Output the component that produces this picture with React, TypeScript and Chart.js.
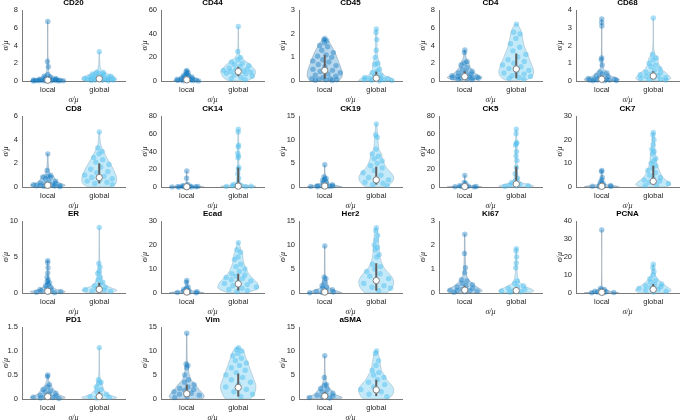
import React, { useEffect, useRef } from 'react';
import { Chart, registerables } from 'chart.js';
Chart.register(...registerables);

// ---------------- data ----------------
const markers = ['CD20','CD44','CD45','CD4','CD68','CD8','CK14','CK19','CK5','CK7','ER','Ecad','Her2','Ki67','PCNA','PD1','Vim','aSMA'];
const groupLabels = ['local', 'global'];
const yMax = [8,60,3,8,4,6,80,15,80,30,10,30,15,3,40,1.5,15,15];
const yStep = [2,20,1,2,1,2,20,5,20,10,5,10,5,1,10,0.5,5,5];

const localMedian = [0.1,1.0,0.45,0.5,0.1,0.15,0.3,0.2,0.5,0.3,0.25,0.4,0.2,0.12,0.4,0.05,1.1,0.6];
const globalMedian = [0.25,8,0.12,1.35,0.28,0.8,1,1.5,3.4,2.4,0.5,3.8,2.6,0.1,2,0.05,2.4,1.9];

const localBox = [[0.03,0.3],[0.4,2.5],[0.1,1.1],[0.3,1.1],[0.04,0.3],[0.05,0.4],[0.1,0.8],[0.08,0.6],[0.2,1.2],[0.1,0.8],[0.08,0.6],[0.1,1],[0.05,0.6],[0.05,0.3],[0.1,1],[0.02,0.12],[0.4,3],[0.2,1.5]];
const globalBox = [[0.1,0.6],[4,12],[0.04,0.4],[0.3,3.1],[0.12,0.55],[0.3,2.0],[0.5,22],[0.5,4.3],[1,23],[0.8,9],[0.25,1.4],[1,8],[0.5,6.2],[0.04,0.25],[0.8,5],[0.02,0.15],[0.5,5.3],[0.6,4]];

// density profiles: [value, relative half-width]
const localDensity = [
  [[0,1.0],[0.15,0.9],[0.3,0.55],[0.6,0.22],[1,0.07],[1.6,0.05],[2.2,0.04],[3,0.015],[5,0.01],[6.7,0.01]],
  [[0,0.75],[1,0.7],[2,0.55],[3,0.4],[5,0.22],[7,0.12],[9,0.04]],
  [[0,0.8],[0.2,1.0],[0.5,0.95],[0.8,0.8],[1.1,0.65],[1.4,0.45],[1.6,0.3],[1.75,0.12],[1.82,0.02]],
  [[0.1,0.6],[0.4,1.0],[0.8,0.65],[1.2,0.45],[1.6,0.3],[2.0,0.25],[2.5,0.1],[3,0.05],[3.5,0.02]],
  [[0,0.9],[0.1,1.0],[0.3,0.5],[0.5,0.3],[0.7,0.1],[1,0.05],[1.3,0.03],[2,0.01],[3.5,0.01]],
  [[0,0.7],[0.15,1.0],[0.4,0.6],[0.7,0.4],[0.9,0.35],[1.1,0.15],[1.4,0.08],[2,0.03],[2.8,0.02]],
  [[0,1.0],[1,0.5],[2,0.1],[5,0.03],[10,0.02],[18,0.01]],
  [[0,1.0],[0.3,0.7],[0.8,0.25],[1.5,0.15],[2,0.1],[3,0.02],[4.7,0.01]],
  [[0,1.0],[1,0.55],[2,0.2],[4,0.08],[6,0.03],[13,0.01]],
  [[0,1.0],[0.5,0.8],[1,0.3],[2,0.1],[4,0.05],[7,0.02]],
  [[0,0.8],[0.2,1.0],[0.5,0.5],[1,0.2],[1.5,0.1],[2,0.05],[3,0.03],[4.5,0.01]],
  [[0,1.0],[0.5,0.7],[1,0.3],[2,0.15],[3,0.08],[5.2,0.02]],
  [[0,1.0],[0.3,0.8],[1,0.3],[1.5,0.2],[3,0.1],[3.5,0.04],[5,0.02],[9.8,0.01]],
  [[0,0.8],[0.1,1.0],[0.3,0.6],[0.5,0.3],[0.7,0.12],[1,0.06],[1.6,0.03],[2.45,0.01]],
  [[0,1.0],[0.5,0.7],[1.5,0.3],[2.5,0.15],[4,0.02],[35,0.005]],
  [[0,0.8],[0.03,1.0],[0.1,0.6],[0.2,0.35],[0.3,0.15],[0.4,0.05],[0.5,0.02]],
  [[0,0.9],[0.5,1.0],[1,0.95],[2,0.7],[3,0.5],[4,0.25],[5,0.15],[6,0.1],[7,0.1],[8,0.03],[10,0.02],[13.7,0.01]],
  [[0,0.9],[0.3,1.0],[1,0.6],[2,0.35],[3,0.15],[4.5,0.05],[6,0.02],[9,0.01]],
];
const globalDensity = [
  [[0,0.8],[0.2,1.0],[0.5,0.85],[0.8,0.5],[1.0,0.3],[1.3,0.1],[2,0.03],[3.3,0.01]],
  [[0,0.5],[3,0.85],[8,1.0],[12,0.8],[16,0.5],[19,0.25],[22,0.08],[25,0.05],[30,0.02],[46,0.01]],
  [[0,1.0],[0.1,0.9],[0.25,0.45],[0.5,0.22],[0.75,0.2],[1.0,0.08],[1.3,0.05],[1.75,0.05],[2.2,0.02]],
  [[0.1,0.6],[0.5,0.9],[1,1.0],[1.5,0.95],[2,0.85],[3,0.65],[4,0.45],[5,0.35],[5.5,0.3],[6,0.2],[6.4,0.05]],
  [[0,0.7],[0.15,1.0],[0.4,0.8],[0.7,0.45],[1.0,0.3],[1.3,0.25],[1.5,0.1],[2,0.02],[3.55,0.01]],
  [[0,0.6],[0.3,0.95],[0.7,1.0],[1.2,0.9],[1.8,0.7],[2.4,0.45],[3,0.25],[3.5,0.1],[4,0.05],[4.65,0.01]],
  [[0,0.9],[1,1.0],[2,0.5],[4,0.12],[8,0.05],[20,0.04],[35,0.04],[47,0.03],[65,0.01]],
  [[0,0.6],[1,0.9],[2,1.0],[3,0.85],[4,0.6],[5,0.45],[6,0.35],[7,0.3],[8,0.15],[10,0.1],[11,0.08],[13.3,0.02]],
  [[0,0.8],[1,1.0],[3,0.7],[5,0.3],[10,0.12],[20,0.07],[30,0.05],[40,0.04],[50,0.05],[60,0.02],[65,0.01]],
  [[0,0.7],[1,1.0],[2,0.9],[4,0.55],[6,0.4],[8,0.3],[10,0.2],[12,0.18],[15,0.12],[18,0.08],[20,0.06],[23,0.02]],
  [[0.1,0.8],[0.4,1.0],[0.8,0.6],[1.2,0.3],[2,0.15],[3,0.1],[4,0.05],[5,0.02],[9.1,0.01]],
  [[0,0.5],[2,1.15],[4,1.1],[6,0.85],[8,0.6],[10,0.45],[13,0.3],[16,0.25],[18,0.15],[20,0.08],[21,0.02]],
  [[0,0.6],[1,0.9],[2,1.0],[3,0.95],[4,0.75],[5,0.5],[6,0.35],[7,0.25],[8,0.2],[10,0.15],[12,0.12],[13.6,0.03]],
  [[0,0.8],[0.1,1.0],[0.25,0.6],[0.4,0.25],[0.6,0.1],[1,0.04],[1.5,0.03],[1.85,0.01]],
  [[0,0.7],[1,1.0],[2,1.0],[4,0.7],[6,0.45],[8,0.25],[10,0.12],[12,0.06],[16,0.01]],
  [[0,0.8],[0.03,1.0],[0.1,0.5],[0.2,0.25],[0.35,0.15],[0.45,0.05],[0.6,0.02],[1.07,0.01]],
  [[0,0.7],[1,0.9],[2,1.0],[3,1.0],[4,0.9],[5,0.8],[6,0.7],[7,0.6],[8,0.5],[9,0.4],[10,0.3],[10.7,0.05]],
  [[0,0.7],[1,0.95],[2,1.0],[3,0.85],[4,0.6],[5,0.45],[6,0.3],[7,0.25],[8,0.2],[9,0.15],[10,0.05]],
];

const localPoints = [
  [6.7,2.2,1.6,0.7,0.55,0.45,0.35,0.3,0.25,0.2,0.18,0.15,0.12,0.1,0.1,0.08,0.07,0.05,0.05,0.04,0.03,0.02,0.02,0.01,0.01,0],
  [9,8,7,6,5,4.5,4,3.5,3,2.5,2,1.8,1.5,1.2,1,0.8,0.6,0.5,0.3,0.2,0.1],
  [1.8,1.75,1.7,1.62,1.5,1.45,1.3,1.2,1.1,1.05,1.0,0.9,0.85,0.8,0.7,0.65,0.6,0.5,0.45,0.4,0.35,0.3,0.25,0.2,0.15,0.1,0.1,0.08,0.05,0.05,0.03,0.02],
  [3.5,3.2,2.2,2.0,1.8,1.5,1.3,1.1,1.0,0.9,0.8,0.7,0.6,0.55,0.5,0.45,0.4,0.38,0.35,0.3,0.3,0.25,0.2,0.15],
  [3.5,3.3,3.1,1.3,1.2,0.9,0.5,0.45,0.4,0.3,0.25,0.2,0.15,0.12,0.1,0.1,0.08,0.06,0.05,0.05,0.03,0.02,0.01],
  [2.8,1.4,1.0,0.9,0.85,0.8,0.7,0.5,0.4,0.35,0.3,0.25,0.2,0.18,0.15,0.12,0.1,0.1,0.08,0.05,0.03],
  [18,10,3,2,1.5,1,0.8,0.5,0.4,0.3,0.2,0.15,0.1,0.1,0.05],
  [4.7,2.1,1.8,1.6,1.4,1.0,0.8,0.5,0.4,0.3,0.2,0.15,0.1,0.1,0.05],
  [13,5,4,2,1.5,1,0.8,0.5,0.3,0.2,0.1],
  [7,6.5,4,3,2,1.5,1,0.7,0.5,0.3,0.2,0.1],
  [4.5,4.2,3.5,2.8,2.2,1.8,1.6,1.4,1.2,1.0,0.8,0.6,0.5,0.4,0.3,0.2,0.15,0.1,0.05],
  [5.2,4.5,2.5,2,1.5,1,0.7,0.5,0.3,0.2,0.1],
  [9.8,3.3,3.0,2.2,1.5,1.2,1,0.7,0.5,0.3,0.2,0.1,0.05],
  [2.45,1.65,1.05,0.85,0.55,0.5,0.4,0.35,0.3,0.25,0.2,0.15,0.12,0.1,0.1,0.08,0.05,0.03],
  [35,2.5,2,1.5,1,0.7,0.5,0.3,0.2,0.1],
  [0.5,0.47,0.3,0.25,0.2,0.17,0.15,0.12,0.1,0.08,0.06,0.05,0.04,0.03,0.02,0.01],
  [13.7,7.3,7.0,6.5,5,4,3.5,3,2.5,2.2,2,1.8,1.5,1.2,1,0.8,0.5,0.3],
  [9,4.5,3,2.8,2.2,2,1.5,1.2,1,0.8,0.6,0.5,0.3,0.2],
];
const globalPoints = [
  [3.3,1.0,0.95,0.85,0.8,0.7,0.6,0.55,0.5,0.45,0.4,0.35,0.3,0.28,0.25,0.22,0.2,0.18,0.15,0.12,0.1,0.08,0.05,0.03],
  [46,25,20,18,16,15,14,13,12,11,10,9.5,9,8.5,8,7.5,7,6.5,6,5,4,3,2,1],
  [2.2,2.05,1.75,1.3,1.0,0.75,0.7,0.5,0.4,0.35,0.25,0.2,0.15,0.12,0.1,0.1,0.08,0.05,0.05,0.03,0.02,0.01],
  [6.4,5.5,5.3,4.8,4.2,3.8,3.4,3,2.7,2.4,2.2,2.0,1.8,1.6,1.4,1.2,1.0,0.9,0.8,0.6,0.5,0.4,0.3,0.2],
  [3.55,1.5,1.3,1.2,1.0,0.9,0.8,0.7,0.6,0.5,0.45,0.4,0.35,0.3,0.25,0.2,0.18,0.15,0.1,0.08,0.05],
  [4.65,3.3,3.0,2.8,2.5,2.3,2.1,1.9,1.7,1.5,1.3,1.2,1.0,0.9,0.8,0.7,0.6,0.5,0.4,0.3,0.2],
  [65,62,47,45,38,35,33,22,20,15,10,5,3,2,1.5,1,0.8,0.5,0.3],
  [13.3,11,10.5,8,7,6.5,6,5.5,5,4.5,4,3.5,3,2.5,2,1.5,1.2,1,0.8,0.5,0.3],
  [65,60,50,49,47,40,35,30,22,15,10,7,5,3,2,1.5,1,0.5],
  [23,22,20,18,16,15,14,12,11,10,9,8,7,6,5,4,3.5,3,2.5,2,1.5,1,0.5],
  [9.1,4.1,3.6,3.0,2.7,2.2,1.8,1.5,1.2,1.0,0.8,0.6,0.5,0.4,0.3,0.2],
  [21,18,17,15,14,12,11,10,9,8,7.5,7,6.5,6,5.5,5,4.5,4,3.5,3,2.5,2,1.5,1,0.5],
  [13.6,13,12,11,10,9.5,9,8,7.5,6,5.5,5,4.5,4,3.5,3,2.5,2,1.5,1.2,1,0.5],
  [1.85,1.75,1.5,1.25,1.05,0.5,0.4,0.3,0.25,0.2,0.15,0.1,0.08,0.05,0.03],
  [16,14,12,10,8,7,6,5,4.5,4,3.5,3,2.5,2,1.5,1,0.5],
  [1.07,0.4,0.35,0.33,0.25,0.2,0.15,0.1,0.08,0.05,0.03,0.02],
  [10.7,10.3,10,9.5,9,8.5,8,7.5,7,6.5,6,5.5,5,4.5,4,3.5,3,2.5,2,1.5,1,0.5],
  [10,9.5,8,7,6,5.5,5,4.5,4,3.5,3,2.5,2,1.5,1,0.5],
];

// ---------------- layout ----------------
const COL_X = [22, 161, 299, 439, 576];
const ROW_TOP = [10, 116, 221, 327];
const ROW_H = [71, 71, 72, 72];
const PLOT_W = 105;
const LEFT = 22, TOP = 12, BOTTOM = 26, RIGHT = 3;
const HALF = 0.34; // max violin half-width in x units

const SANS = 'Liberation Sans, Arial, sans-serif';
const SERIF = 'Liberation Serif, DejaVu Serif, serif';

function widthAt(d: number[][], y: number) {
  if (y <= d[0][0]) return d[0][1];
  for (let i = 1; i < d.length; i++) {
    if (y <= d[i][0]) {
      const t = (y - d[i - 1][0]) / (d[i][0] - d[i - 1][0]);
      return d[i - 1][1] + t * (d[i][1] - d[i - 1][1]);
    }
  }
  return d[d.length - 1][1];
}

function jitter(i: number) {
  const f = ((i + 1) * 0.6180339887) % 1;
  return f * 2 - 1;
}

function outline(d: number[][], c: number) {
  const right = d.map(([y, w]) => ({ x: c + w * HALF, y }));
  const left = d.slice().reverse().map(([y, w]) => ({ x: c - w * HALF, y }));
  return [...right, ...left, right[0]];
}

function Panel({ idx }: { idx: number }) {
  const ref = useRef<HTMLCanvasElement>(null);
  const r = Math.floor(idx / 5), c = idx % 5;
  const width = LEFT + PLOT_W + RIGHT;
  const height = TOP + ROW_H[r] + BOTTOM;

  useEffect(() => {
    if (!ref.current) return;
    const groups = [
      { c: 1, dens: localDensity[idx], pts: localPoints[idx], med: localMedian[idx], box: localBox[idx],
        fill: 'rgba(0,114,189,0.28)', pt: 'rgba(0,114,189,0.38)', edge: 'rgba(100,120,140,0.45)' },
      { c: 2, dens: globalDensity[idx], pts: globalPoints[idx], med: globalMedian[idx], box: globalBox[idx],
        fill: 'rgba(77,190,238,0.33)', pt: 'rgba(77,190,238,0.48)', edge: 'rgba(110,140,160,0.40)' },
    ];
    const datasets: any[] = [];
    groups.forEach((g) => {
      datasets.push({
        type: 'scatter', data: [{ x: g.c, y: g.med }], pointRadius: 3.2, pointBackgroundColor: '#ffffff',
        pointBorderColor: '#808080', pointBorderWidth: 1, order: 0, clip: 6,
      });
      datasets.push({
        type: 'line', data: [{ x: g.c, y: g.box[0] }, { x: g.c, y: g.box[1] }], borderColor: '#5f5f5f',
        borderWidth: 2, pointRadius: 0, order: 1, fill: false,
      });
      datasets.push({
        type: 'scatter',
        data: g.pts.map((y, i) => ({ x: g.c + jitter(i) * widthAt(g.dens, y) * HALF * 0.95, y })),
        pointRadius: 2.7, pointBackgroundColor: g.pt, pointBorderWidth: 0, order: 2, clip: 6,
      });
      datasets.push({
        type: 'line', data: outline(g.dens, g.c), fill: 'shape', backgroundColor: g.fill,
        borderColor: g.edge, borderWidth: 0.8, pointRadius: 0, tension: 0.3, order: 3,
      });
    });

    const tickFont = { family: SANS, size: 7.5 };
    const titleFont = { family: SERIF, size: 8, style: 'italic' as const };
    const chart = new Chart(ref.current, {
      type: 'scatter',
      data: { datasets },
      options: {
        responsive: false,
        animation: false,
        devicePixelRatio: 1,
        events: [],
        layout: { padding: 0 },
        plugins: {
          legend: { display: false },
          tooltip: { enabled: false },
          title: {
            display: true, text: markers[idx], fullSize: false, color: '#000',
            font: { family: SANS, size: 8, weight: 'bold', lineHeight: '10px' } as any,
            padding: { top: 0, bottom: 2 },
          },
        },
        scales: {
          x: {
            type: 'linear', min: 0.5, max: 2.5,
            grid: { display: false, drawTicks: false },
            border: { display: true, color: '#7a7a7a', width: 1 },
            ticks: {
              font: tickFont, color: '#262626', padding: 4, autoSkip: false, maxRotation: 0,
              callback: (v: any) => (v === 1 ? groupLabels[0] : v === 2 ? groupLabels[1] : ''),
            },
            afterBuildTicks: (s: any) => { s.ticks = [{ value: 1 }, { value: 2 }]; },
            afterFit: (s: any) => { s.height = BOTTOM; },
            title: { display: true, text: 'σ/μ', font: titleFont, color: '#262626', padding: { top: 0, bottom: 2 } },
          },
          y: {
            type: 'linear', min: 0, max: yMax[idx],
            grid: { display: false, drawTicks: false },
            border: { display: true, color: '#7a7a7a', width: 1 },
            ticks: { stepSize: yStep[idx], font: tickFont, color: '#262626', padding: 4 },
            afterFit: (s: any) => { s.width = LEFT; },
            title: { display: true, text: 'σ/μ', font: titleFont, color: '#262626', padding: { top: 1, bottom: 0 } },
          },
        },
      } as any,
    });
    return () => chart.destroy();
  }, [idx]);

  return (
    <canvas
      ref={ref}
      width={width}
      height={height}
      style={{ position: 'absolute', left: COL_X[c] - LEFT, top: ROW_TOP[r] - TOP, width, height }}
    />
  );
}

export default function App() {
  return (
    <div style={{ position: 'fixed', left: 0, top: 0, width: 683, height: 420, background: '#ffffff', overflow: 'hidden' }}>
      {markers.map((m, i) => <Panel key={m} idx={i} />)}
    </div>
  );
}
